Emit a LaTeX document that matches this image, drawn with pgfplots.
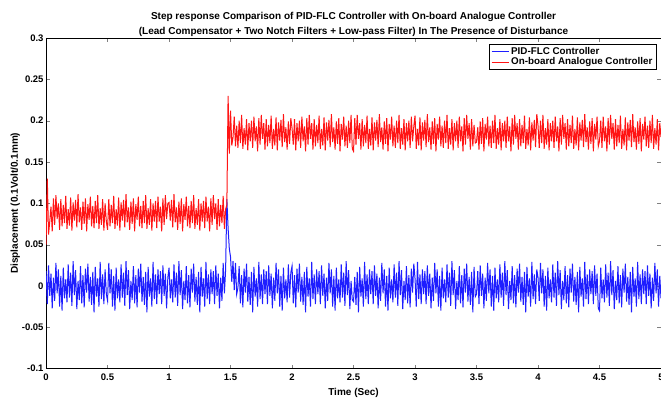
\documentclass[border=0pt]{standalone}
\usepackage{fontspec}
\setmainfont{Liberation Sans}
\usepackage{pgfplots}
\pgfplotsset{compat=1.18}
\usepackage{pgfplotstable}
\definecolor{pidblue}{RGB}{30,30,255}
\definecolor{anared}{RGB}{255,20,20}
\pgfplotstableread{
t b r
0.00 0.018 0.050
0.01 -0.022 0.130
0.02 0.025 0.062
0.03 -0.012 0.078
0.04 0.015 0.096
0.05 -0.027 0.066
0.06 0.010 0.106
0.07 -0.018 0.074
0.08 0.028 0.110
0.09 -0.009 0.081
0.10 0.020 0.100
0.11 -0.025 0.068
0.12 0.012 0.105
0.13 -0.030 0.072
0.14 0.022 0.098
0.15 -0.015 0.076
0.16 0.008 0.109
0.17 -0.020 0.069
0.18 0.026 0.093
0.19 -0.014 0.073
0.20 0.016 0.107
0.21 -0.024 0.067
0.22 0.030 0.101
0.23 -0.011 0.079
0.24 0.019 0.104
0.25 -0.028 0.071
0.26 0.006 0.111
0.27 -0.017 0.077
0.28 0.024 0.095
0.29 -0.021 0.068
0.30 0.013 0.102
0.31 -0.026 0.075
0.32 0.021 0.106
0.33 -0.008 0.066
0.34 0.027 0.099
0.35 -0.019 0.080
0.36 0.011 0.108
0.37 -0.023 0.072
0.38 0.017 0.097
0.39 -0.032 0.070
0.40 0.023 0.103
0.41 -0.013 0.076
0.42 0.009 0.110
0.43 -0.025 0.069
0.44 0.029 0.094
0.45 -0.016 0.074
0.46 0.014 0.105
0.47 -0.022 0.067
0.48 0.020 0.100
0.49 -0.010 0.078
0.50 -0.018 0.068
0.51 0.028 0.105
0.52 -0.009 0.072
0.53 0.020 0.098
0.54 -0.025 0.076
0.55 0.012 0.109
0.56 -0.030 0.069
0.57 0.022 0.093
0.58 -0.015 0.073
0.59 0.008 0.107
0.60 -0.020 0.067
0.61 0.026 0.101
0.62 -0.014 0.079
0.63 0.016 0.104
0.64 -0.024 0.071
0.65 0.030 0.111
0.66 -0.011 0.077
0.67 0.019 0.095
0.68 -0.028 0.068
0.69 0.006 0.102
0.70 -0.017 0.075
0.71 0.024 0.106
0.72 -0.021 0.066
0.73 0.013 0.099
0.74 -0.026 0.080
0.75 0.021 0.108
0.76 -0.008 0.072
0.77 0.027 0.097
0.78 -0.019 0.070
0.79 0.011 0.103
0.80 -0.023 0.076
0.81 0.017 0.110
0.82 -0.032 0.069
0.83 0.023 0.094
0.84 -0.013 0.074
0.85 0.009 0.105
0.86 -0.025 0.067
0.87 0.029 0.100
0.88 -0.016 0.078
0.89 0.014 0.103
0.90 -0.022 0.070
0.91 0.020 0.108
0.92 -0.010 0.078
0.93 0.018 0.096
0.94 -0.022 0.066
0.95 0.025 0.106
0.96 -0.012 0.074
0.97 0.015 0.110
0.98 -0.027 0.081
0.99 0.010 0.100
1.00 0.022 0.101
1.01 -0.015 0.079
1.02 0.008 0.104
1.03 -0.020 0.071
1.04 0.026 0.111
1.05 -0.014 0.077
1.06 0.016 0.095
1.07 -0.024 0.068
1.08 0.030 0.102
1.09 -0.011 0.075
1.10 0.019 0.106
1.11 -0.028 0.066
1.12 0.006 0.099
1.13 -0.017 0.080
1.14 0.024 0.108
1.15 -0.021 0.072
1.16 0.013 0.097
1.17 -0.026 0.070
1.18 0.021 0.103
1.19 -0.008 0.076
1.20 0.027 0.110
1.21 -0.019 0.069
1.22 0.011 0.094
1.23 -0.023 0.074
1.24 0.017 0.105
1.25 -0.032 0.067
1.26 0.023 0.100
1.27 -0.013 0.078
1.28 0.009 0.103
1.29 -0.025 0.070
1.30 0.029 0.108
1.31 -0.016 0.078
1.32 0.014 0.096
1.33 -0.022 0.066
1.34 0.020 0.106
1.35 -0.010 0.074
1.36 0.018 0.110
1.37 -0.022 0.081
1.38 0.025 0.100
1.39 -0.012 0.068
1.40 0.015 0.105
1.41 -0.027 0.072
1.42 0.010 0.098
1.43 -0.018 0.076
1.44 0.028 0.109
1.45 -0.009 0.069
1.46 0.020 0.093
1.47 0.105 0.098
1.48 0.070 0.230
1.49 0.045 0.160
1.50 0.035 0.212
1.51 0.005 0.170
1.52 0.030 0.180
1.53 -0.005 0.205
1.54 0.028 0.169
1.55 -0.010 0.194
1.56 -0.002 0.167
1.57 0.024 0.200
1.58 -0.021 0.173
1.59 0.013 0.207
1.60 -0.026 0.166
1.61 0.021 0.191
1.62 -0.008 0.171
1.63 0.027 0.202
1.64 -0.019 0.164
1.65 0.011 0.197
1.66 -0.023 0.175
1.67 0.017 0.200
1.68 -0.032 0.167
1.69 0.023 0.205
1.70 -0.013 0.175
1.71 0.009 0.193
1.72 -0.025 0.163
1.73 0.029 0.203
1.74 -0.016 0.171
1.75 0.014 0.207
1.76 -0.022 0.178
1.77 0.020 0.197
1.78 -0.010 0.165
1.79 0.018 0.202
1.80 -0.022 0.169
1.81 0.025 0.195
1.82 -0.012 0.173
1.83 0.015 0.206
1.84 -0.027 0.166
1.85 0.010 0.190
1.86 -0.018 0.170
1.87 0.028 0.204
1.88 -0.009 0.164
1.89 0.020 0.198
1.90 -0.025 0.176
1.91 0.012 0.201
1.92 -0.030 0.168
1.93 0.022 0.208
1.94 -0.015 0.174
1.95 0.008 0.192
1.96 -0.020 0.165
1.97 0.026 0.199
1.98 -0.014 0.172
1.99 0.016 0.203
2.00 0.024 0.191
2.01 -0.021 0.171
2.02 0.013 0.202
2.03 -0.026 0.164
2.04 0.021 0.197
2.05 -0.008 0.175
2.06 0.027 0.200
2.07 -0.019 0.167
2.08 0.011 0.205
2.09 -0.023 0.175
2.10 0.017 0.193
2.11 -0.032 0.163
2.12 0.023 0.203
2.13 -0.013 0.171
2.14 0.009 0.207
2.15 -0.025 0.178
2.16 0.029 0.197
2.17 -0.016 0.165
2.18 0.014 0.202
2.19 -0.022 0.169
2.20 0.020 0.195
2.21 -0.010 0.173
2.22 0.018 0.206
2.23 -0.022 0.166
2.24 0.025 0.190
2.25 -0.012 0.170
2.26 0.015 0.204
2.27 -0.027 0.164
2.28 0.010 0.198
2.29 -0.018 0.176
2.30 0.028 0.201
2.31 -0.009 0.168
2.32 0.020 0.208
2.33 -0.025 0.174
2.34 0.012 0.192
2.35 -0.030 0.165
2.36 0.022 0.199
2.37 -0.015 0.172
2.38 0.008 0.203
2.39 -0.020 0.163
2.40 0.026 0.196
2.41 -0.014 0.177
2.42 0.016 0.205
2.43 -0.024 0.169
2.44 0.030 0.194
2.45 -0.011 0.167
2.46 0.019 0.200
2.47 -0.028 0.173
2.48 0.006 0.207
2.49 -0.017 0.166
2.50 -0.019 0.163
2.51 0.011 0.203
2.52 -0.023 0.171
2.53 0.017 0.207
2.54 -0.032 0.178
2.55 0.023 0.197
2.56 -0.013 0.165
2.57 0.009 0.202
2.58 -0.025 0.169
2.59 0.029 0.195
2.60 -0.016 0.173
2.61 0.014 0.206
2.62 -0.022 0.166
2.63 0.020 0.190
2.64 -0.010 0.170
2.65 0.018 0.204
2.66 -0.022 0.164
2.67 0.025 0.198
2.68 -0.012 0.176
2.69 0.015 0.201
2.70 -0.027 0.168
2.71 0.010 0.208
2.72 -0.018 0.174
2.73 0.028 0.192
2.74 -0.009 0.165
2.75 0.020 0.199
2.76 -0.025 0.172
2.77 0.012 0.203
2.78 -0.030 0.163
2.79 0.022 0.196
2.80 -0.015 0.177
2.81 0.008 0.205
2.82 -0.020 0.169
2.83 0.026 0.194
2.84 -0.014 0.167
2.85 0.016 0.200
2.86 -0.024 0.173
2.87 0.030 0.207
2.88 -0.011 0.166
2.89 0.019 0.191
2.90 -0.028 0.171
2.91 0.006 0.202
2.92 -0.017 0.164
2.93 0.024 0.197
2.94 -0.021 0.175
2.95 0.013 0.200
2.96 -0.026 0.167
2.97 0.021 0.205
2.98 -0.008 0.175
2.99 0.027 0.193
3.00 0.009 0.206
3.01 -0.025 0.166
3.02 0.029 0.190
3.03 -0.016 0.170
3.04 0.014 0.204
3.05 -0.022 0.164
3.06 0.020 0.198
3.07 -0.010 0.176
3.08 0.018 0.201
3.09 -0.022 0.168
3.10 0.025 0.208
3.11 -0.012 0.174
3.12 0.015 0.192
3.13 -0.027 0.165
3.14 0.010 0.199
3.15 -0.018 0.172
3.16 0.028 0.203
3.17 -0.009 0.163
3.18 0.020 0.196
3.19 -0.025 0.177
3.20 0.012 0.205
3.21 -0.030 0.169
3.22 0.022 0.194
3.23 -0.015 0.167
3.24 0.008 0.200
3.25 -0.020 0.173
3.26 0.026 0.207
3.27 -0.014 0.166
3.28 0.016 0.191
3.29 -0.024 0.171
3.30 0.030 0.202
3.31 -0.011 0.164
3.32 0.019 0.197
3.33 -0.028 0.175
3.34 0.006 0.200
3.35 -0.017 0.167
3.36 0.024 0.205
3.37 -0.021 0.175
3.38 0.013 0.193
3.39 -0.026 0.163
3.40 0.021 0.203
3.41 -0.008 0.171
3.42 0.027 0.207
3.43 -0.019 0.178
3.44 0.011 0.197
3.45 -0.023 0.165
3.46 0.017 0.202
3.47 -0.032 0.169
3.48 0.023 0.195
3.49 -0.013 0.173
3.50 -0.010 0.174
3.51 0.018 0.192
3.52 -0.022 0.165
3.53 0.025 0.199
3.54 -0.012 0.172
3.55 0.015 0.203
3.56 -0.027 0.163
3.57 0.010 0.196
3.58 -0.018 0.177
3.59 0.028 0.205
3.60 -0.009 0.169
3.61 0.020 0.194
3.62 -0.025 0.167
3.63 0.012 0.200
3.64 -0.030 0.173
3.65 0.022 0.207
3.66 -0.015 0.166
3.67 0.008 0.191
3.68 -0.020 0.171
3.69 0.026 0.202
3.70 -0.014 0.164
3.71 0.016 0.197
3.72 -0.024 0.175
3.73 0.030 0.200
3.74 -0.011 0.167
3.75 0.019 0.205
3.76 -0.028 0.175
3.77 0.006 0.193
3.78 -0.017 0.163
3.79 0.024 0.203
3.80 -0.021 0.171
3.81 0.013 0.207
3.82 -0.026 0.178
3.83 0.021 0.197
3.84 -0.008 0.165
3.85 0.027 0.202
3.86 -0.019 0.169
3.87 0.011 0.195
3.88 -0.023 0.173
3.89 0.017 0.206
3.90 -0.032 0.166
3.91 0.023 0.190
3.92 -0.013 0.170
3.93 0.009 0.204
3.94 -0.025 0.164
3.95 0.029 0.198
3.96 -0.016 0.176
3.97 0.014 0.201
3.98 -0.022 0.168
3.99 0.020 0.208
4.00 0.010 0.194
4.01 -0.018 0.167
4.02 0.028 0.200
4.03 -0.009 0.173
4.04 0.020 0.207
4.05 -0.025 0.166
4.06 0.012 0.191
4.07 -0.030 0.171
4.08 0.022 0.202
4.09 -0.015 0.164
4.10 0.008 0.197
4.11 -0.020 0.175
4.12 0.026 0.200
4.13 -0.014 0.167
4.14 0.016 0.205
4.15 -0.024 0.175
4.16 0.030 0.193
4.17 -0.011 0.163
4.18 0.019 0.203
4.19 -0.028 0.171
4.20 0.006 0.207
4.21 -0.017 0.178
4.22 0.024 0.197
4.23 -0.021 0.165
4.24 0.013 0.202
4.25 -0.026 0.169
4.26 0.021 0.195
4.27 -0.008 0.173
4.28 0.027 0.206
4.29 -0.019 0.166
4.30 0.011 0.190
4.31 -0.023 0.170
4.32 0.017 0.204
4.33 -0.032 0.164
4.34 0.023 0.198
4.35 -0.013 0.176
4.36 0.009 0.201
4.37 -0.025 0.168
4.38 0.029 0.208
4.39 -0.016 0.174
4.40 0.014 0.192
4.41 -0.022 0.165
4.42 0.020 0.199
4.43 -0.010 0.172
4.44 0.018 0.203
4.45 -0.022 0.163
4.46 0.025 0.196
4.47 -0.012 0.177
4.48 0.015 0.205
4.49 -0.027 0.169
4.50 -0.030 0.175
4.51 0.022 0.200
4.52 -0.015 0.167
4.53 0.008 0.205
4.54 -0.020 0.175
4.55 0.026 0.193
4.56 -0.014 0.163
4.57 0.016 0.203
4.58 -0.024 0.171
4.59 0.030 0.207
4.60 -0.011 0.178
4.61 0.019 0.197
4.62 -0.028 0.165
4.63 0.006 0.202
4.64 -0.017 0.169
4.65 0.024 0.195
4.66 -0.021 0.173
4.67 0.013 0.206
4.68 -0.026 0.166
4.69 0.021 0.190
4.70 -0.008 0.170
4.71 0.027 0.204
4.72 -0.019 0.164
4.73 0.011 0.198
4.74 -0.023 0.176
4.75 0.017 0.201
4.76 -0.032 0.168
4.77 0.023 0.208
4.78 -0.013 0.174
4.79 0.009 0.192
4.80 -0.025 0.165
4.81 0.029 0.199
4.82 -0.016 0.172
4.83 0.014 0.203
4.84 -0.022 0.163
4.85 0.020 0.196
4.86 -0.010 0.177
4.87 0.018 0.205
4.88 -0.022 0.169
4.89 0.025 0.194
4.90 -0.012 0.167
4.91 0.015 0.200
4.92 -0.027 0.173
4.93 0.010 0.207
4.94 -0.018 0.166
4.95 0.028 0.191
4.96 -0.009 0.171
4.97 0.020 0.202
4.98 -0.025 0.164
4.99 0.012 0.197
5.00 -0.015 0.180
}\data

\begin{document}
\begin{tikzpicture}
\useasboundingbox (-46pt,-30pt) rectangle (614pt,368pt);
\begin{axis}[
  at={(0pt,0pt)}, anchor=south west,
  scale only axis, width=614pt, height=330pt,
  xmin=0, xmax=5, ymin=-0.1, ymax=0.3,
  xtick={0,0.5,1,1.5,2,2.5,3,3.5,4,4.5,5},
  ytick={-0.1,-0.05,0,0.05,0.1,0.15,0.2,0.25,0.3},
  scaled ticks=false,
  /pgf/number format/assume math mode=true,
  /pgf/number format/fixed,
  /pgf/number format/precision=2,
  tick align=inside, tick pos=both, major tick length=4pt,
  axis line style={line width=0.5pt},
  ticklabel style={font=\bfseries\fontsize{9.5}{10}\selectfont},
  xticklabel style={yshift=-2pt},
  yticklabel style={xshift=1pt},
  title={Step response Comparison of PID-FLC Controller with On-board Analogue Controller\\(Lead Compensator + Two Notch Filters + Low-pass Filter) In The Presence of Disturbance},
  title style={font=\bfseries\fontsize{10}{15}\selectfont, align=center, at={(0.5,1)}, anchor=south, yshift=-8pt},
  xlabel={Time (Sec)},
  ylabel={Displacement (0.1Volt/0.1mm)},
  label style={font=\bfseries\fontsize{10}{11}\selectfont},
  xlabel style={yshift=-1pt},
  ylabel style={yshift=-5pt},
  legend style={at={(0.992,0.982)}, anchor=north east,
    font=\bfseries\fontsize{9.8}{11}\selectfont, inner xsep=1.5pt, inner ysep=1pt, row sep=-2pt},
  legend cell align=left,
]
\addplot[pidblue, line width=1pt, forget plot] table[x=t, y=b] {\data};
\addplot[anared, line width=1pt, forget plot] table[x=t, y=r] {\data};
\addlegendimage{draw=pidblue, line width=1pt}
\addlegendentry{PID-FLC Controller}
\addlegendimage{draw=anared, line width=1pt}
\addlegendentry{On-board Analogue Controller}
\end{axis}
\end{tikzpicture}
\end{document}
